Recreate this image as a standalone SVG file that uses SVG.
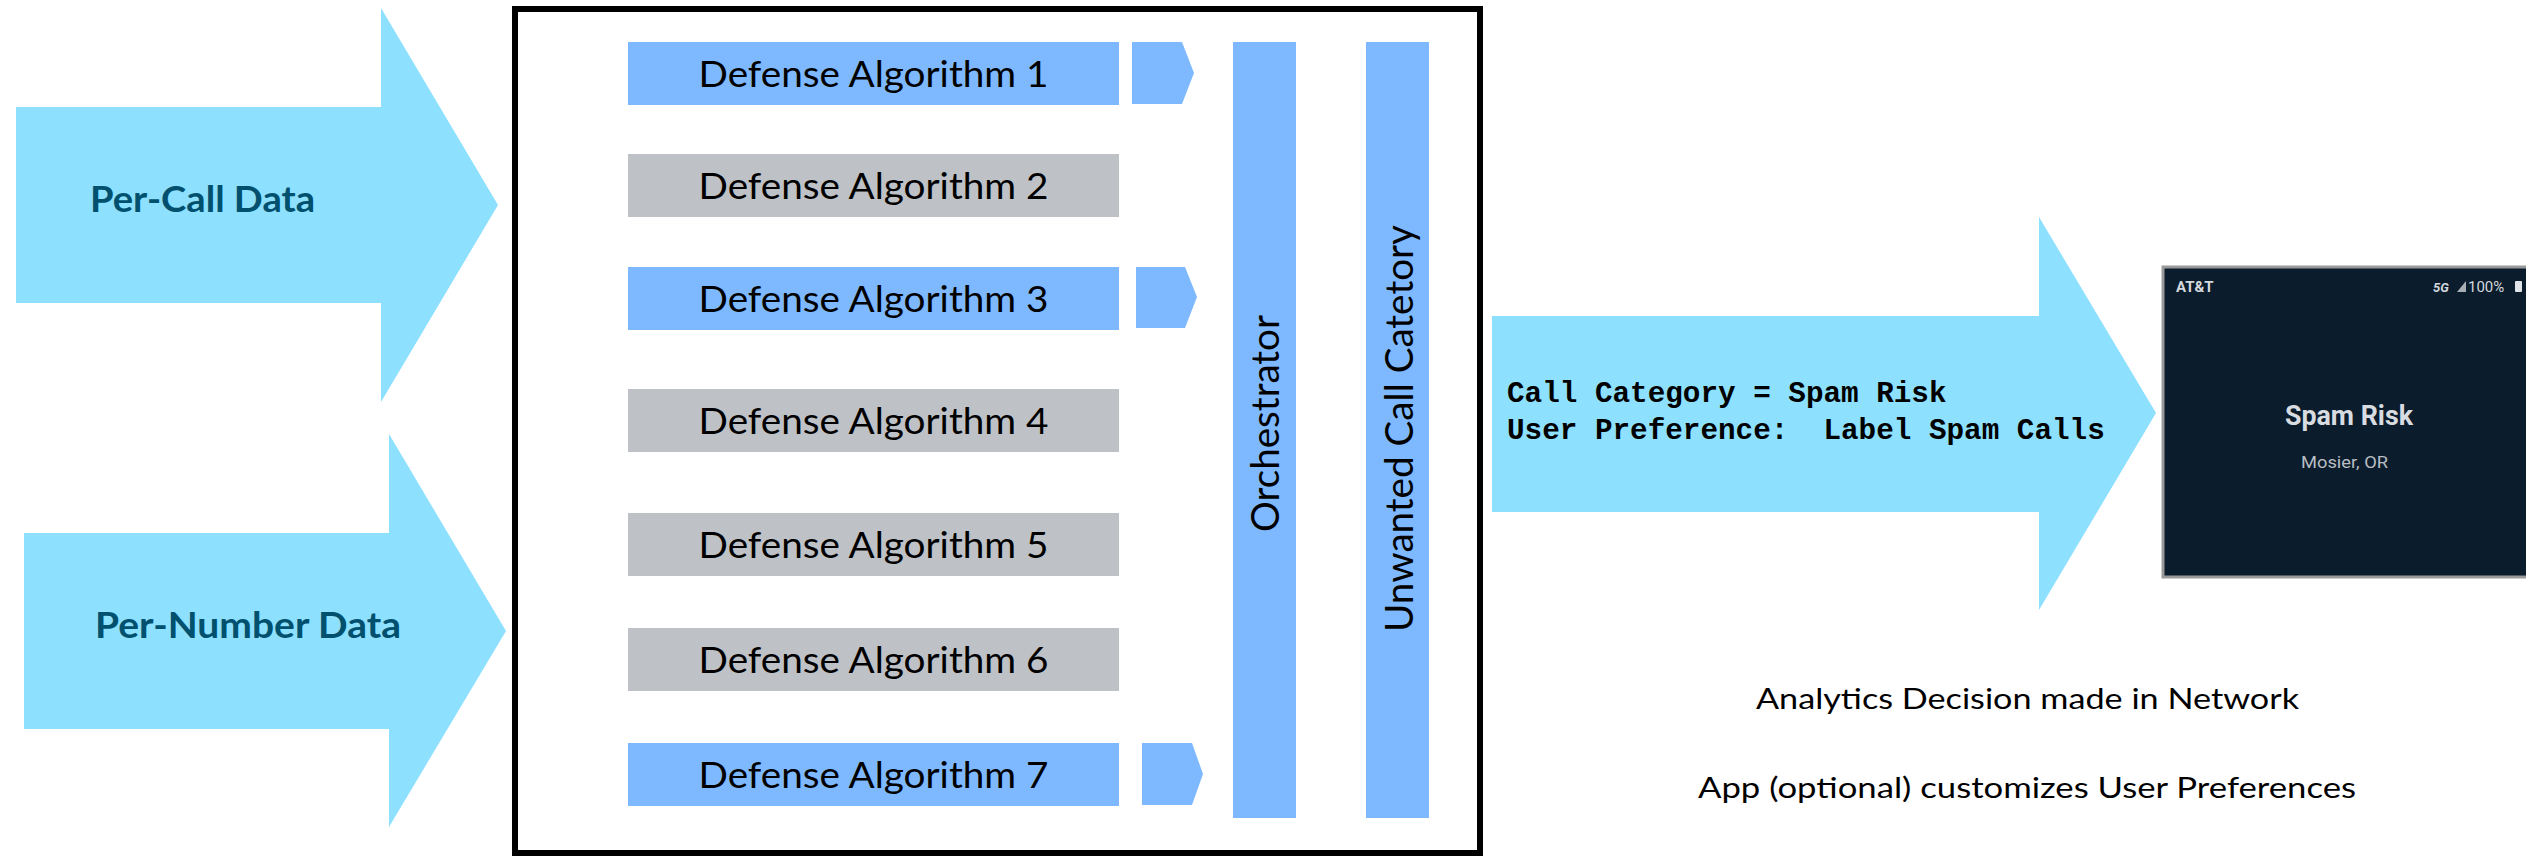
<svg xmlns="http://www.w3.org/2000/svg" width="2526" height="856" viewBox="0 0 2526 856">
<style>
.bigarrow{fill:#8DE0FE}
.algb{fill:#7EB9FF}
.algg{fill:#BEC2C6}
.bar{fill:#7EB9FF}
.alt{font-family:Lato,"Open Sans",sans-serif;font-size:36px;fill:#000;text-anchor:middle}
.inl{font-family:Lato,"Open Sans",sans-serif;font-weight:bold;font-size:37px;fill:#00506E}
.vt{font-family:Lato,"Open Sans",sans-serif;font-size:38px;fill:#000;text-anchor:middle}
.mono{font-family:"Liberation Mono","Courier New",monospace;font-weight:bold;font-size:29.3px;fill:#000;white-space:pre}
.note{font-family:Lato,"Open Sans",sans-serif;font-size:29px;fill:#000;text-anchor:middle}
.ph{font-family:Roboto,"Liberation Sans",sans-serif}
</style>
<rect width="2526" height="856" fill="#fff"/>
<g id="per-call-data">
<polygon class="bigarrow" points="16,107 381,107 381,8 498,205 381,402 381,303 16,303"/>
<text class="inl" x="90" y="212" textLength="225" lengthAdjust="spacingAndGlyphs">Per-Call Data</text>
</g>
<g id="per-number-data">
<polygon class="bigarrow" points="24,533 389,533 389,434 506,631 389,827 389,729 24,729"/>
<text class="inl" x="95" y="638" textLength="306" lengthAdjust="spacingAndGlyphs">Per-Number Data</text>
</g>
<g id="analytics-engine">
<rect x="515" y="9" width="965" height="844" fill="#fff" stroke="#000" stroke-width="6"/>
</g>
<g id="alg1"><rect class="algb" x="628" y="42" width="491" height="63"/><text class="alt" x="873.5" y="87" textLength="350" lengthAdjust="spacingAndGlyphs">Defense Algorithm 1</text></g>
<g id="alg2"><rect class="algg" x="628" y="154" width="491" height="63"/><text class="alt" x="873.5" y="199" textLength="350" lengthAdjust="spacingAndGlyphs">Defense Algorithm 2</text></g>
<g id="alg3"><rect class="algb" x="628" y="267" width="491" height="63"/><text class="alt" x="873.5" y="312" textLength="350" lengthAdjust="spacingAndGlyphs">Defense Algorithm 3</text></g>
<g id="alg4"><rect class="algg" x="628" y="389" width="491" height="63"/><text class="alt" x="873.5" y="434" textLength="350" lengthAdjust="spacingAndGlyphs">Defense Algorithm 4</text></g>
<g id="alg5"><rect class="algg" x="628" y="513" width="491" height="63"/><text class="alt" x="873.5" y="558" textLength="350" lengthAdjust="spacingAndGlyphs">Defense Algorithm 5</text></g>
<g id="alg6"><rect class="algg" x="628" y="628" width="491" height="63"/><text class="alt" x="873.5" y="673" textLength="350" lengthAdjust="spacingAndGlyphs">Defense Algorithm 6</text></g>
<g id="alg7"><rect class="algb" x="628" y="743" width="491" height="63"/><text class="alt" x="873.5" y="788" textLength="350" lengthAdjust="spacingAndGlyphs">Defense Algorithm 7</text></g>
<g id="orchestrator">
<rect class="bar" x="1233" y="42" width="63" height="776"/>
<text class="vt" transform="translate(1279,423.5) rotate(-90)" x="0" y="0" textLength="217" lengthAdjust="spacingAndGlyphs">Orchestrator</text>
</g>
<g id="unwanted-call-category">
<rect class="bar" x="1366" y="42" width="63" height="776"/>
<text class="vt" transform="translate(1413,428.5) rotate(-90)" x="0" y="0" textLength="407" lengthAdjust="spacingAndGlyphs">Unwanted Call Catetory</text>
</g>
<g id="connectors">
<polygon class="algb" points="1132,42 1182,42 1194,73 1182,104 1132,104"/>
<polygon class="algb" points="1136,267 1185,267 1197,297 1185,328 1136,328"/>
<polygon class="algb" points="1142,743 1192,743 1203,774 1192,805 1142,805"/>
</g>
<g id="decision-output">
<polygon class="bigarrow" points="1492,316 2039,316 2039,217 2156,413 2039,610 2039,512 1492,512"/>
<text class="mono" x="1507" y="402" xml:space="preserve">Call Category = Spam Risk</text>
<text class="mono" x="1507" y="439" xml:space="preserve">User Preference:  Label Spam Calls</text>
</g>
<g id="phone-screen">
<rect x="2163" y="267" width="400" height="310" fill="#0B1C2C" stroke="#9A9A9A" stroke-width="3"/>
<text class="ph" x="2176" y="292" font-size="15" font-weight="bold" fill="#D4D8DC">AT&amp;T</text>
<text class="ph" x="2433" y="292" font-size="13" font-weight="bold" font-style="italic" fill="#D4D8DC">5G</text>
<polygon points="2457,292 2466,281 2466,292" fill="#A8AEB4"/>
<text class="ph" x="2468" y="292" font-size="15" fill="#D4D8DC">100%</text>
<rect x="2515" y="281" width="7" height="11" rx="1" fill="#E0E4E8"/>
<text class="ph" x="2349" y="425" font-size="27" font-weight="bold" fill="#D8DCE0" text-anchor="middle" textLength="128" lengthAdjust="spacingAndGlyphs">Spam Risk</text>
<text class="ph" x="2344.5" y="468" font-size="17" fill="#B8BEC4" text-anchor="middle" textLength="87" lengthAdjust="spacingAndGlyphs">Mosier, OR</text>
</g>
<g id="notes">
<text class="note" x="2027.5" y="709" textLength="543" lengthAdjust="spacingAndGlyphs">Analytics Decision made in Network</text>
<text class="note" x="2027" y="798" textLength="658" lengthAdjust="spacingAndGlyphs">App (optional) customizes User Preferences</text>
</g>
</svg>
